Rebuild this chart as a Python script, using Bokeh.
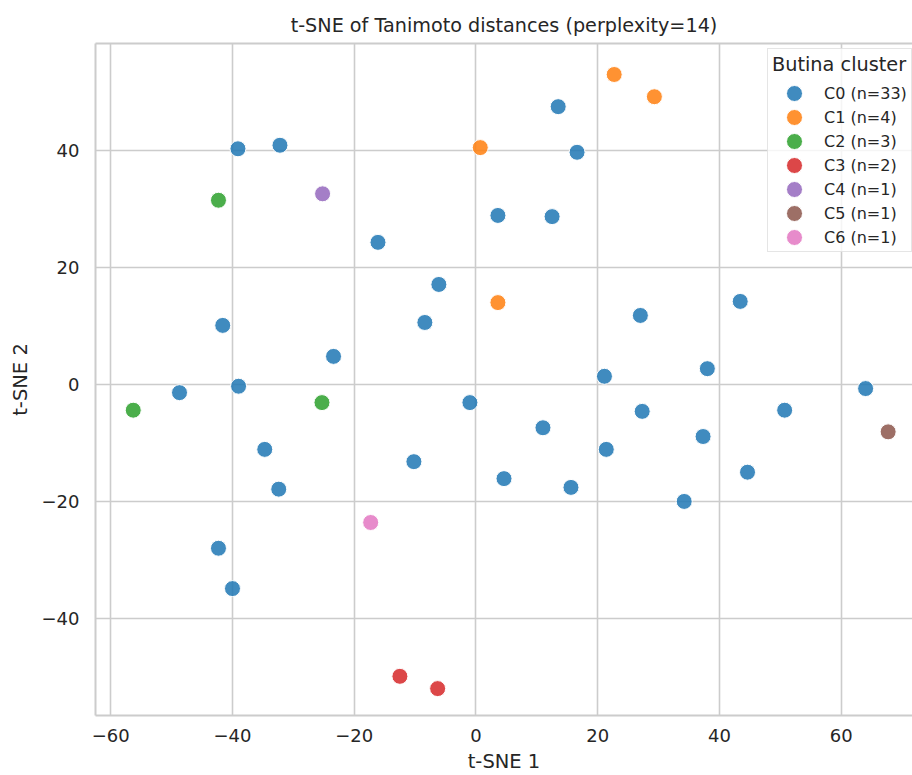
from bokeh.plotting import figure
from bokeh.models import Range1d, LinearAxis, FixedTicker, Legend, LegendItem
from bokeh.embed import file_html
from bokeh.resources import INLINE

# ---- data ----
cluster_names = ["C0 (n=33)", "C1 (n=4)", "C2 (n=3)", "C3 (n=2)", "C4 (n=1)", "C5 (n=1)", "C6 (n=1)"]
cluster_colors = ["#1f77b4", "#ff7f0e", "#2ca02c", "#d62728", "#9467bd", "#8c564b", "#e377c2"]

c0_x = [-39.1, -32.2, 13.5, 16.6, 3.6, 12.5, -16.1, -6.1, -8.4, -41.6, -23.4, -48.7, -39.0, -1.0,
        -34.7, -10.2, -32.4, 4.6, 11.0, 15.6, 21.1, 21.4, 27.0, 27.3, 34.2, 37.3, 38.0, 43.4, 44.6,
        50.7, 64.0, -42.3, -40.0]
c0_y = [40.3, 40.9, 47.5, 39.7, 28.9, 28.7, 24.3, 17.1, 10.6, 10.1, 4.8, -1.4, -0.3, -3.1,
        -11.1, -13.2, -17.9, -16.1, -7.4, -17.6, 1.4, -11.1, 11.8, -4.6, -20.0, -8.9, 2.7, 14.2, -15.0,
        -4.4, -0.7, -28.0, -34.9]
c1_x = [22.7, 29.3, 0.7, 3.6]
c1_y = [53.0, 49.2, 40.5, 14.0]
c2_x = [-42.3, -56.3, -25.3]
c2_y = [31.5, -4.4, -3.1]
c3_x = [-12.5, -6.3]
c3_y = [-49.9, -52.0]
c4_x = [-25.2]
c4_y = [32.6]
c5_x = [67.7]
c5_y = [-8.1]
c6_x = [-17.3]
c6_y = [-23.6]

series_x = [c0_x, c1_x, c2_x, c3_x, c4_x, c5_x, c6_x]
series_y = [c0_y, c1_y, c2_y, c3_y, c4_y, c5_y, c6_y]

x_ticks = [-60, -40, -20, 0, 20, 40, 60]
y_ticks = [-40, -20, 0, 20, 40]

FONT = "DejaVu Sans"
TXT = "#262626"
GRID = "#cccccc"

p = figure(width=912, height=775, output_backend="svg", toolbar_location=None,
           x_range=Range1d(-62.5, 71.7), y_range=Range1d(-56.6, 58.3),
           min_border_left=95, min_border_right=0, min_border_top=43, min_border_bottom=57,
           title="t-SNE of Tanimoto distances (perplexity=14)")

p.background_fill_color = "white"
p.border_fill_color = "white"
p.outline_line_color = None

p.title.text_font = FONT
p.title.text_font_size = "19.2px"
p.title.text_font_style = "normal"
p.title.text_color = TXT
p.title.align = "center"
p.title.offset = -11
p.title.standoff = 14

for ax, ticks, lab in ((p.xaxis[0], x_ticks, "t-SNE 1"), (p.yaxis[0], y_ticks, "t-SNE 2")):
    ax.ticker = FixedTicker(ticks=ticks)
    ax.axis_label = lab
    ax.axis_label_text_font = FONT
    ax.axis_label_text_font_size = "19.5px"
    ax.axis_label_text_font_style = "normal"
    ax.axis_label_text_color = TXT
    ax.major_label_text_font = FONT
    ax.major_label_text_font_size = "18px"
    ax.major_label_text_color = TXT
    ax.major_tick_out = 0
    ax.major_tick_in = 0
    ax.minor_tick_out = 0
    ax.minor_tick_in = 0
    ax.axis_line_color = GRID
    ax.axis_line_width = 2

p.xaxis.major_label_standoff = 13
p.xaxis.axis_label_standoff = 5
p.xaxis.axis_label_text_line_height = 0.8
p.xaxis.major_label_text_line_height = 0.8
p.yaxis.major_label_standoff = 16
p.yaxis.axis_label_standoff = 7

top = LinearAxis(ticker=FixedTicker(ticks=[]), axis_line_color=GRID, axis_line_width=2,
                 major_tick_out=0, major_tick_in=0, minor_tick_out=0, minor_tick_in=0,
                 major_label_text_font_size="0px")
p.add_layout(top, "above")

p.xgrid.ticker = FixedTicker(ticks=x_ticks)
p.ygrid.ticker = FixedTicker(ticks=y_ticks)
p.xgrid.grid_line_color = GRID
p.ygrid.grid_line_color = GRID
p.xgrid.grid_line_width = 1.6
p.ygrid.grid_line_width = 1.6

items = []
for name, col, xs, ys in zip(cluster_names, cluster_colors, series_x, series_y):
    r = p.ellipse(x=xs, y=ys, width=16, height=16, width_units="screen", height_units="screen",
                  fill_color=col, fill_alpha=0.85, line_color="white", line_width=1)
    items.append(LegendItem(label=name, renderers=[r]))

legend = Legend(items=items, location=(672, 463), title="Butina cluster",
                glyph_width=44, glyph_height=20, spacing=4, padding=4, margin=0,
                label_standoff=8, title_standoff=7, label_height=20)
legend.title_text_font = FONT
legend.title_text_font_size = "19.3px"
legend.title_text_font_style = "normal"
legend.title_text_color = TXT
legend.label_text_font = FONT
legend.label_text_font_size = "16px"
legend.label_text_color = TXT
legend.border_line_color = GRID
legend.border_line_width = 1.5
legend.background_fill_color = "white"
legend.background_fill_alpha = 0.8
p.add_layout(legend, "center")

open("out.html", "w").write(file_html(p, INLINE))
